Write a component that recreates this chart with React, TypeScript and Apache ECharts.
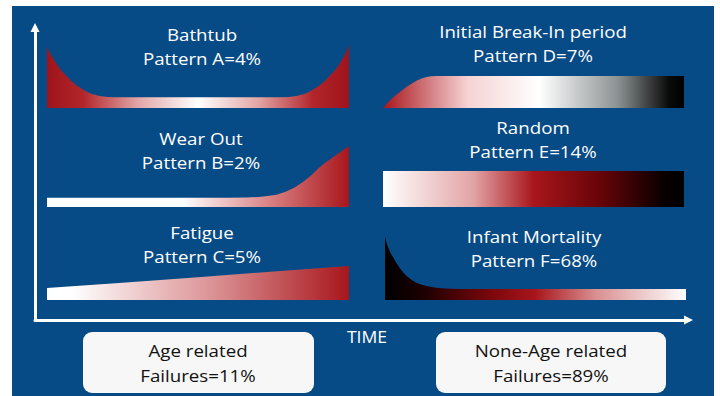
import { useEffect, useRef } from 'react';
import * as echarts from 'echarts';

// ---- data ----
const patternNames = ['Bathtub', 'Wear Out', 'Fatigue', 'Initial Break-In period', 'Random', 'Infant Mortality'];
const patternLetters = ['A', 'B', 'C', 'D', 'E', 'F'];
const patternShares = [4, 2, 5, 7, 14, 68];
const groupNames = ['Age related', 'None-Age related'];
const groupShares = [11, 89];
const timeLabel = 'TIME';

// conditional probability of failure (0-100) vs age (0-100)
const bathtubCurve = [
  [0, 97], [1, 87], [2, 79], [3, 71], [4, 64], [5, 58], [6, 53], [7, 48], [8, 43], [9, 39], [10, 35], [11, 32],
  [12, 29], [13, 26], [14, 24], [15, 22], [16, 21], [17, 19.5], [18, 18.5], [20, 17.5], [22, 17], [50, 17],
  [78, 17], [80, 17.5], [82, 18.5], [83, 19.5], [84, 21], [85, 22], [86, 24], [87, 26], [88, 29], [89, 32],
  [90, 35], [91, 39], [92, 43], [93, 48], [94, 53], [95, 58], [96, 64], [97, 71], [98, 79], [99, 88], [100, 100],
];
const wearOutCurve = [
  [0, 15], [30, 15], [60, 15], [66, 15.5], [70, 16.5], [73, 18], [76, 20], [79, 25], [82, 32], [85, 42],
  [88, 54], [90, 64], [92, 72], [94, 79], [96, 86], [98, 93], [100, 100],
];
const fatigueCurve = [[0, 35], [25, 51], [50, 67], [75, 84], [100, 100]];
const breakInCurve = [
  [0, 0], [1, 11], [2, 21], [3, 30], [4, 38], [5.6, 50], [7, 60], [8.5, 70], [10, 79], [11.3, 86],
  [13, 93], [14.5, 97], [16, 99], [18, 100], [50, 100], [100, 100],
];
const randomCurve = [[0, 100], [50, 100], [100, 100]];
const infantCurve = [
  [0, 100], [0.5, 91], [1, 84], [1.5, 78], [2, 73], [2.7, 68], [3.5, 61], [4.3, 55], [5, 50], [6, 44],
  [7, 39], [8, 35], [9, 31.5], [10.6, 27], [12, 24.5], [13.5, 22.5], [15, 21], [17, 19.5], [20, 18.3],
  [25, 17.5], [40, 17.5], [100, 17.5],
];

const curves = [bathtubCurve, wearOutCurve, fatigueCurve, breakInCurve, randomCurve, infantCurve];

const FONT = '"Open Sans", "Noto Sans", sans-serif';
const BLUE = '#074B86';
const RED = '#A8161C';

const grad = (stops: [number, string][]) => ({
  type: 'linear', x: 0, y: 0, x2: 1, y2: 0,
  colorStops: stops.map(([offset, color]) => ({ offset, color })),
});

const gradients = [
  grad([[0, '#9E141A'], [0.12, '#B2262B'], [0.3, '#E2A5A6'], [0.5, '#FFFFFF'], [0.7, '#E2A5A6'], [0.88, '#B2262B'], [1, '#9E141A']]),
  grad([[0, '#FFFFFF'], [0.45, '#FFFFFF'], [0.75, '#D77C7E'], [1, RED]]),
  grad([[0, '#FFFFFF'], [0.08, '#FFFFFF'], [0.55, '#DB9294'], [1, RED]]),
  grad([[0, RED], [0.28, '#F6D2D3'], [0.52, '#FFFFFF'], [0.78, '#8C9293'], [0.95, '#0A0A0A'], [1, '#000000']]),
  grad([[0, '#FFFFFF'], [0.3, '#E2A4A5'], [0.5, RED], [0.72, '#680408'], [0.93, '#0A0000'], [1, '#000000']]),
  grad([[0, '#000000'], [0.12, '#1A0001'], [0.35, '#7A070C'], [0.5, RED], [0.7, '#D98F91'], [1, '#FFFFFF']]),
];

const panelGrids = [
  { left: 47, right: 371, top: 45, bottom: 288 },
  { left: 47, right: 371, top: 146, bottom: 189 },
  { left: 47, right: 371, top: 266, bottom: 96 },
  { left: 383, right: 36, top: 76, bottom: 288 },
  { left: 383, right: 36, top: 171, bottom: 189 },
  { left: 385, right: 34, top: 237, bottom: 96 },
];

const titlePos = [
  [202, 46], [201, 150], [202, 244],
  [533, 43], [533, 139], [534, 248],
];

export default function App() {
  const ref = useRef<HTMLDivElement>(null);

  useEffect(() => {
    if (!ref.current) return;
    const chart = echarts.init(ref.current, null, { renderer: 'svg' });

    const grids: any[] = panelGrids.map((g) => ({ ...g, containLabel: false }));
    grids.push({ left: 35, right: 31.5, top: 27.5, bottom: 76 });

    const xAxes: any[] = panelGrids.map((_, i) => ({ type: 'value', gridIndex: i, min: 0, max: 100, show: false }));
    const yAxes: any[] = panelGrids.map((_, i) => ({ type: 'value', gridIndex: i, min: 0, max: 100, show: false }));
    const frameAxis = {
      type: 'value', gridIndex: 6, min: 0, max: 1,
      axisLine: { show: true, onZero: false, symbol: ['none', 'triangle'], symbolSize: [9, 9], lineStyle: { color: '#FFFFFF', width: 3 } },
      axisTick: { show: false }, axisLabel: { show: false }, splitLine: { show: false },
    };
    xAxes.push({ ...frameAxis });
    yAxes.push({ ...frameAxis });

    const series: any[] = curves.map((data, i) => ({
      type: 'line',
      xAxisIndex: i,
      yAxisIndex: i,
      data,
      smooth: false,
      symbol: 'none',
      silent: true,
      lineStyle: { width: 0 },
      areaStyle: { color: gradients[i], opacity: 1 },
    }));

    const textStyle = (text: string, fill: string, size: number, lh: number) => ({
      text, fill, fontSize: size, fontFamily: FONT, lineHeight: lh,
      align: 'center', verticalAlign: 'middle', textAlign: 'center', textVerticalAlign: 'middle',
    });

    const graphics: any[] = [
      { type: 'rect', z: -10, shape: { x: 12, y: 6, width: 702, height: 390 }, style: { fill: BLUE } },
    ];
    patternNames.forEach((name, i) => {
      graphics.push({
        type: 'text', x: titlePos[i][0], y: titlePos[i][1], scaleX: 1.1,
        style: textStyle(`${name}\nPattern ${patternLetters[i]}=${patternShares[i]}%`, '#FFFFFF', 17, 24),
      });
    });
    graphics.push({ type: 'text', x: 367, y: 337, scaleX: 1.1, style: textStyle(timeLabel, '#FFFFFF', 16, 20) });

    const boxes = [
      { x: 83, w: 231, cx: 198 },
      { x: 436, w: 230, cx: 551 },
    ];
    groupNames.forEach((name, i) => {
      const b = boxes[i];
      graphics.push({ type: 'rect', shape: { x: b.x, y: 332, width: b.w, height: 61, r: 9 }, style: { fill: '#F7F7F7' } });
      graphics.push({
        type: 'text', x: b.cx, y: 363, scaleX: 1.1,
        style: textStyle(`${name}\nFailures=${groupShares[i]}%`, '#111111', 17, 25),
      });
    });

    chart.setOption({
      animation: false,
      backgroundColor: '#FFFFFF',
      grid: grids,
      xAxis: xAxes,
      yAxis: yAxes,
      series,
      graphic: { elements: graphics },
    });

    return () => chart.dispose();
  }, []);

  return (
    <div
      ref={ref}
      style={{ position: 'fixed', left: 0, top: 0, width: 720, height: 396 }}
    />
  );
}
